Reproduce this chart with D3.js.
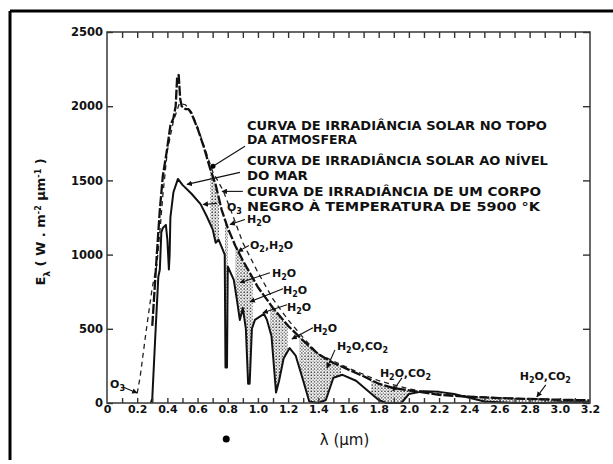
<!DOCTYPE html>
<html>
<head>
<meta charset="utf-8">
<script src="https://cdn.jsdelivr.net/npm/d3@7"></script>
<style>
  body { margin: 0; background: #fff; }
  svg { display: block; }
  text { font-family: "DejaVu Sans", "Liberation Sans", sans-serif; fill: #111; }
</style>
</head>
<body>
<div id="chart"></div>
<script>
// Spectral irradiance (W m-2 µm-1) against wavelength (µm)
const waveTOA = [0.30, 0.33, 0.35, 0.37, 0.395, 0.42, 0.44, 0.455, 0.465, 0.475, 0.485, 0.495, 0.52, 0.54, 0.56, 0.60, 0.64, 0.68, 0.72, 0.76, 0.80, 0.85, 0.90, 1.00, 1.10, 1.20, 1.30, 1.40, 1.50, 1.60, 1.70, 1.80, 1.90, 2.00, 2.20, 2.40, 2.60, 2.80, 3.00, 3.20];
const irrTOA  = [520, 1000, 1300, 1530, 1690, 1870, 1920, 2000, 2200, 2210, 2050, 2000, 1980, 1980, 1950, 1850, 1730, 1590, 1470, 1300, 1180, 1060, 960, 780, 640, 520, 420, 330, 270, 225, 180, 130, 100, 85, 55, 42, 33, 27, 22, 18];

const waveSea = [0.29, 0.30, 0.32, 0.34, 0.35, 0.36, 0.37, 0.39, 0.40, 0.41, 0.415, 0.42, 0.44, 0.47, 0.50, 0.56, 0.62, 0.66, 0.70, 0.72, 0.74, 0.76, 0.78, 0.785, 0.795, 0.80, 0.84, 0.86, 0.88, 0.90, 0.92, 0.935, 0.945, 0.96, 0.98, 1.04, 1.06, 1.09, 1.12, 1.14, 1.17, 1.21, 1.25, 1.30, 1.34, 1.40, 1.45, 1.50, 1.56, 1.65, 1.72, 1.80, 1.85, 1.95, 2.00, 2.10, 2.20, 2.30, 2.40, 2.50, 2.60, 2.70, 2.90, 3.00, 3.20];
const irrSea  = [0, 30, 450, 850, 900, 1150, 1180, 1200, 1100, 900, 1000, 1250, 1420, 1510, 1470, 1410, 1340, 1260, 1170, 1080, 1100, 1050, 1000, 240, 240, 920, 830, 700, 560, 640, 500, 130, 130, 500, 560, 600, 560, 450, 70, 150, 300, 370, 320, 150, 10, 0, 20, 170, 190, 150, 90, 20, 0, 0, 60, 80, 75, 60, 35, 10, 5, 0, 0, 5, 5];

const waveBB = [0.20, 0.22, 0.26, 0.30, 0.33, 0.35, 0.37, 0.40, 0.44, 0.48, 0.52, 0.56, 0.60, 0.65, 0.70, 0.77, 0.82, 0.90, 1.00, 1.10, 1.20, 1.30, 1.40, 1.60, 1.80, 2.00, 2.20, 2.40, 2.60, 2.80, 3.00, 3.20];
const irrBB  = [65, 180, 490, 780, 930, 1150, 1400, 1700, 1900, 2020, 2010, 1960, 1860, 1710, 1560, 1430, 1300, 1080, 880, 700, 560, 440, 330, 235, 150, 95, 62, 45, 34, 28, 22, 18];

// absorption bands shown with dots between the two solar curves
const bandStart = [0.68, 0.78, 0.85, 1.08, 1.27, 1.75, 2.40];
const bandEnd   = [0.74, 0.80, 0.97, 1.20, 1.55, 2.05, 3.20];

const yTicks = [0, 500, 1000, 1500, 2000, 2500];
const xTickValues = [0, 0.2, 0.4, 0.6, 0.8, 1.0, 1.2, 1.4, 1.6, 1.8, 2.0, 2.2, 2.4, 2.6, 2.8, 3.0, 3.2];
const xTickLabels = ["0", "0.2", "0.4", "0.6", "0.8", "1.0", "1.2", "1.4", "1.6", "1.8", "2.0", "2.2", "2.4", "2.6", "2.8", "3.0", "3.2"];

const legendLines = [
  "CURVA DE IRRADIÂNCIA SOLAR NO TOPO",
  "DA ATMOSFERA",
  "CURVA DE IRRADIÂNCIA SOLAR AO NÍVEL",
  "DO MAR",
  "CURVA DE IRRADIÂNCIA DE UM CORPO",
  "NEGRO À TEMPERATURA DE 5900 °K"
];

const W = 613, H = 464;
const PLOT = { left: 107, right: 590, top: 32, bottom: 403 };

const svg = d3.select("#chart").append("svg").attr("width", W).attr("height", H);

const x = d3.scaleLinear().domain([0, 3.2]).range([PLOT.left, PLOT.right]);
const y = d3.scaleLinear().domain([0, 2500]).range([PLOT.bottom, PLOT.top]);

const defs = svg.append("defs");
const pat = defs.append("pattern").attr("id", "dots")
  .attr("patternUnits", "userSpaceOnUse").attr("width", 3.2).attr("height", 3.2);
pat.append("circle").attr("cx", 1).attr("cy", 1).attr("r", 0.8).attr("fill", "#222");
pat.append("circle").attr("cx", 2.6).attr("cy", 2.6).attr("r", 0.6).attr("fill", "#444");

defs.append("marker").attr("id", "arrow")
  .attr("viewBox", "0 0 10 10").attr("refX", 9).attr("refY", 5)
  .attr("markerWidth", 5).attr("markerHeight", 5).attr("orient", "auto")
  .append("path").attr("d", "M0,0 L10,5 L0,10 z").attr("fill", "#111");

const clip = defs.append("clipPath").attr("id", "bands");
bandStart.forEach((b, i) => {
  const x0 = Math.round(x(b)), x1 = Math.round(x(bandEnd[i]));
  clip.append("rect")
    .attr("x", x0).attr("y", PLOT.top)
    .attr("width", x1 - x0).attr("height", PLOT.bottom - PLOT.top);
});

// scanned page border (top and left only)
svg.append("line").attr("x1", 10).attr("x2", W).attr("y1", 11).attr("y2", 11)
  .attr("stroke", "#000").attr("stroke-width", 3);
svg.append("line").attr("x1", 10).attr("x2", 10).attr("y1", 11).attr("y2", 460)
  .attr("stroke", "#000").attr("stroke-width", 3);

const toa = waveTOA.map((w, i) => [w, irrTOA[i]]);
const sea = waveSea.map((w, i) => [w, irrSea[i]]);
const bb  = waveBB.map((w, i) => [w, irrBB[i]]);

// dotted absorption: fill under the top-of-atmosphere curve, then blank under sea level
const areaGen = d3.area().x(d => x(d[0])).y0(y(0)).y1(d => y(d[1]));
svg.append("path").datum(toa).attr("d", areaGen)
  .attr("fill", "url(#dots)").attr("clip-path", "url(#bands)");
svg.append("path").datum(sea).attr("d", areaGen)
  .attr("fill", "#fff").attr("stroke", "#fff").attr("stroke-width", 1)
  .attr("clip-path", "url(#bands)");

const lineGen = d3.line().x(d => x(d[0])).y(d => y(d[1]));

svg.append("path").datum(bb).attr("d", lineGen)
  .attr("fill", "none").attr("stroke", "#222").attr("stroke-width", 1.3)
  .attr("stroke-dasharray", "5,4");

svg.append("path").datum(toa).attr("d", lineGen)
  .attr("fill", "none").attr("stroke", "#111").attr("stroke-width", 2.3)
  .attr("stroke-dasharray", "10,2").attr("stroke-linejoin", "round");

svg.append("path").datum(sea).attr("d", lineGen)
  .attr("fill", "none").attr("stroke", "#111").attr("stroke-width", 2)
  .attr("stroke-linejoin", "round");

// frame and axes
svg.append("rect")
  .attr("x", PLOT.left).attr("y", PLOT.top)
  .attr("width", PLOT.right - PLOT.left).attr("height", PLOT.bottom - PLOT.top)
  .attr("fill", "none").attr("stroke", "#444").attr("stroke-width", 1.6);

const minorX = d3.range(1, 32).map(d => d / 10);

svg.append("g").attr("transform", `translate(0,${PLOT.bottom})`)
  .call(d3.axisBottom(x).tickValues(minorX).tickSize(-5).tickFormat(""))
  .call(g => g.select(".domain").remove());
svg.append("g").attr("transform", `translate(0,${PLOT.top})`)
  .call(d3.axisTop(x).tickValues(minorX).tickSize(-6).tickFormat(""))
  .call(g => g.select(".domain").remove());

svg.append("g").attr("transform", `translate(0,${PLOT.bottom})`)
  .call(d3.axisBottom(x).tickValues(xTickValues).tickSize(0).tickPadding(2)
    .tickFormat((d, i) => xTickLabels[i]))
  .call(g => g.select(".domain").remove())
  .selectAll("text").style("font-size", "11px").style("font-weight", "bold").attr("fill", "#222");

svg.append("g").attr("transform", `translate(${PLOT.left},0)`)
  .call(d3.axisLeft(y).tickValues(yTicks).tickSize(-6).tickPadding(4).tickFormat(d3.format("d")))
  .call(g => g.select(".domain").remove())
  .selectAll("text").style("font-size", "11.5px").style("font-weight", "bold").attr("fill", "#222");
svg.append("g").attr("transform", `translate(${PLOT.right},0)`)
  .call(d3.axisRight(y).tickValues(yTicks).tickSize(-7).tickFormat(""))
  .call(g => g.select(".domain").remove());

svg.selectAll(".tick line").attr("stroke", "#333").attr("stroke-width", 1.4);

// axis titles
svg.append("text")
  .attr("x", x(1.41)).attr("y", 445)
  .style("font-size", "15px")
  .text("λ (µm)");

const yt = svg.append("text")
  .attr("transform", `translate(45,${y(1220)}) rotate(-90)`)
  .attr("text-anchor", "middle")
  .style("font-size", "13px").style("font-weight", "bold");
yt.append("tspan").text("E");
yt.append("tspan").attr("baseline-shift", "sub").style("font-size", "9px").text("λ");
yt.append("tspan").text(" ( W . m");
yt.append("tspan").attr("baseline-shift", "super").style("font-size", "8px").text("-2");
yt.append("tspan").text(" µm");
yt.append("tspan").attr("baseline-shift", "super").style("font-size", "8px").text("-1");
yt.append("tspan").text(" )");

// stray dot below the axis
svg.append("circle").attr("cx", x(0.79)).attr("cy", 439).attr("r", 3.5).attr("fill", "#000");

// legend text with its leaders
const legendY = [1838, 1743, 1601, 1500, 1392, 1297];
const legendW = [300, 110, 301, 61, 294, 293];
legendLines.forEach((t, i) => {
  svg.append("text")
    .attr("x", x(0.927)).attr("y", y(legendY[i]))
    .attr("textLength", legendW[i]).attr("lengthAdjust", "spacingAndGlyphs")
    .style("font-size", "11.5px").style("font-weight", "bold")
    .text(t);
});

const leaders = [
  { from: [0.914, 1730], to: [0.702, 1595], end: "dot" },
  { from: [0.881, 1554], to: [0.53, 1473], end: "arrow" },
  { from: [0.90, 1426], to: [0.762, 1426], end: "arrow" },
  { from: [0.728, 1345], to: [0.636, 1338], end: "arrow" },
  { from: [0.914, 1236], to: [0.815, 1203], end: "arrow" },
  { from: [0.94, 1061], to: [0.868, 1020], end: "arrow" },
  { from: [1.079, 878], to: [0.881, 811], end: "arrow" },
  { from: [1.166, 770], to: [0.947, 682], end: "arrow" },
  { from: [1.192, 662], to: [1.033, 608], end: "arrow" },
  { from: [1.364, 507], to: [1.225, 432], end: "arrow" },
  { from: [1.51, 358], to: [1.457, 236], end: "arrow" },
  { from: [1.954, 169], to: [1.894, 81], end: "arrow" },
  { from: [2.907, 122], to: [2.848, 41], end: "arrow" },
  { from: [0.106, 108], to: [0.199, 68], end: "arrow" }
];
leaders.forEach(l => {
  const ln = svg.append("line")
    .attr("x1", x(l.from[0])).attr("y1", y(l.from[1]))
    .attr("x2", x(l.to[0])).attr("y2", y(l.to[1]))
    .attr("stroke", "#111").attr("stroke-width", 1.1);
  if (l.end === "arrow") ln.attr("marker-end", "url(#arrow)");
  else svg.append("circle").attr("cx", x(l.to[0])).attr("cy", y(l.to[1])).attr("r", 2.5).attr("fill", "#000");
});

// gas labels: parts alternate normal text and subscripts
const gasLabels = [
  { at: [0.795, 1291], parts: ["O", "3"] },
  { at: [0.927, 1216], parts: ["H", "2", "O"] },
  { at: [0.947, 1041], parts: ["O", "2", ",H", "2", "O"] },
  { at: [1.093, 851], parts: ["H", "2", "O"] },
  { at: [1.166, 736], parts: ["H", "2", "O"] },
  { at: [1.192, 622], parts: ["H", "2", "O"] },
  { at: [1.364, 480], parts: ["H", "2", "O"] },
  { at: [1.523, 358], parts: ["H", "2", "O,CO", "2"] },
  { at: [1.808, 176], parts: ["H", "2", "O,CO", "2"] },
  { at: [2.735, 155], parts: ["H", "2", "O,CO", "2"] },
  { at: [0.02, 101], parts: ["O", "3"] }
];
gasLabels.forEach(g => {
  const t = svg.append("text")
    .attr("x", x(g.at[0])).attr("y", y(g.at[1]))
    .style("font-size", "11px").style("font-weight", "bold");
  g.parts.forEach((p, i) => {
    const s = t.append("tspan").text(p);
    if (i % 2 === 1) s.attr("dy", 3).style("font-size", "8px");
    else if (i > 0) s.attr("dy", -3);
  });
});
</script>
</body>
</html>
